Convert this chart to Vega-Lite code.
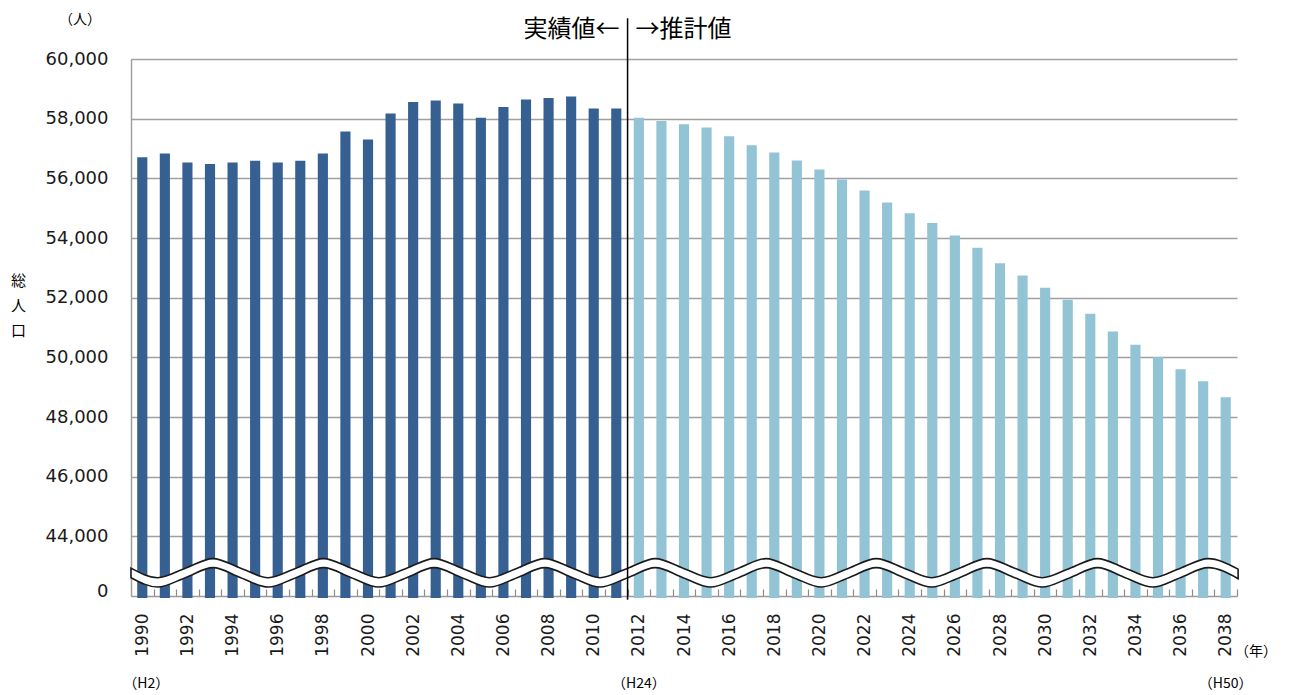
{
  "$schema": "https://vega.github.io/schema/vega-lite/v6.json",
  "autosize": {"type": "none"},
  "width": 1106,
  "height": 537,
  "padding": {"left": 131, "top": 59, "right": 56, "bottom": 99},
  "background": "white",
  "config": {"view": {"stroke": null}, "font": "DejaVu Sans"},
  "datasets": {
    "pop": [
      {"year": 1990, "value": 56710, "kind": "actual"},
      {"year": 1991, "value": 56830, "kind": "actual"},
      {"year": 1992, "value": 56530, "kind": "actual"},
      {"year": 1993, "value": 56480, "kind": "actual"},
      {"year": 1994, "value": 56530, "kind": "actual"},
      {"year": 1995, "value": 56590, "kind": "actual"},
      {"year": 1996, "value": 56530, "kind": "actual"},
      {"year": 1997, "value": 56590, "kind": "actual"},
      {"year": 1998, "value": 56830, "kind": "actual"},
      {"year": 1999, "value": 57570, "kind": "actual"},
      {"year": 2000, "value": 57300, "kind": "actual"},
      {"year": 2001, "value": 58170, "kind": "actual"},
      {"year": 2002, "value": 58560, "kind": "actual"},
      {"year": 2003, "value": 58610, "kind": "actual"},
      {"year": 2004, "value": 58510, "kind": "actual"},
      {"year": 2005, "value": 58030, "kind": "actual"},
      {"year": 2006, "value": 58390, "kind": "actual"},
      {"year": 2007, "value": 58640, "kind": "actual"},
      {"year": 2008, "value": 58690, "kind": "actual"},
      {"year": 2009, "value": 58740, "kind": "actual"},
      {"year": 2010, "value": 58340, "kind": "actual"},
      {"year": 2011, "value": 58340, "kind": "actual"},
      {"year": 2012, "value": 58030, "kind": "projection"},
      {"year": 2013, "value": 57920, "kind": "projection"},
      {"year": 2014, "value": 57810, "kind": "projection"},
      {"year": 2015, "value": 57700, "kind": "projection"},
      {"year": 2016, "value": 57410, "kind": "projection"},
      {"year": 2017, "value": 57110, "kind": "projection"},
      {"year": 2018, "value": 56870, "kind": "projection"},
      {"year": 2019, "value": 56600, "kind": "projection"},
      {"year": 2020, "value": 56300, "kind": "projection"},
      {"year": 2021, "value": 55960, "kind": "projection"},
      {"year": 2022, "value": 55590, "kind": "projection"},
      {"year": 2023, "value": 55190, "kind": "projection"},
      {"year": 2024, "value": 54830, "kind": "projection"},
      {"year": 2025, "value": 54500, "kind": "projection"},
      {"year": 2026, "value": 54080, "kind": "projection"},
      {"year": 2027, "value": 53670, "kind": "projection"},
      {"year": 2028, "value": 53150, "kind": "projection"},
      {"year": 2029, "value": 52740, "kind": "projection"},
      {"year": 2030, "value": 52330, "kind": "projection"},
      {"year": 2031, "value": 51930, "kind": "projection"},
      {"year": 2032, "value": 51460, "kind": "projection"},
      {"year": 2033, "value": 50870, "kind": "projection"},
      {"year": 2034, "value": 50420, "kind": "projection"},
      {"year": 2035, "value": 50010, "kind": "projection"},
      {"year": 2036, "value": 49600, "kind": "projection"},
      {"year": 2037, "value": 49200, "kind": "projection"},
      {"year": 2038, "value": 48660, "kind": "projection"}
    ],
    "wave": [
      {"x": 1989.5, "top": 42933, "bot": 42614},
      {"x": 1990.68, "top": 42614, "bot": 42300},
      {"x": 1991.91, "top": 42933, "bot": 42614},
      {"x": 1993.13, "top": 43252, "bot": 42950},
      {"x": 1994.36, "top": 42933, "bot": 42614},
      {"x": 1995.58, "top": 42614, "bot": 42300},
      {"x": 1996.81, "top": 42933, "bot": 42614},
      {"x": 1998.03, "top": 43252, "bot": 42950},
      {"x": 1999.26, "top": 42933, "bot": 42614},
      {"x": 2000.48, "top": 42614, "bot": 42300},
      {"x": 2001.71, "top": 42933, "bot": 42614},
      {"x": 2002.93, "top": 43252, "bot": 42950},
      {"x": 2004.16, "top": 42933, "bot": 42614},
      {"x": 2005.38, "top": 42614, "bot": 42300},
      {"x": 2006.61, "top": 42933, "bot": 42614},
      {"x": 2007.83, "top": 43252, "bot": 42950},
      {"x": 2009.06, "top": 42933, "bot": 42614},
      {"x": 2010.28, "top": 42614, "bot": 42300},
      {"x": 2011.51, "top": 42933, "bot": 42614},
      {"x": 2012.73, "top": 43252, "bot": 42950},
      {"x": 2013.96, "top": 42933, "bot": 42614},
      {"x": 2015.18, "top": 42614, "bot": 42300},
      {"x": 2016.41, "top": 42933, "bot": 42614},
      {"x": 2017.63, "top": 43252, "bot": 42950},
      {"x": 2018.85, "top": 42933, "bot": 42614},
      {"x": 2020.08, "top": 42614, "bot": 42300},
      {"x": 2021.3, "top": 42933, "bot": 42614},
      {"x": 2022.52, "top": 43252, "bot": 42950},
      {"x": 2023.75, "top": 42933, "bot": 42614},
      {"x": 2024.97, "top": 42614, "bot": 42300},
      {"x": 2026.2, "top": 42933, "bot": 42614},
      {"x": 2027.42, "top": 43252, "bot": 42950},
      {"x": 2028.65, "top": 42933, "bot": 42614},
      {"x": 2029.87, "top": 42614, "bot": 42300},
      {"x": 2031.1, "top": 42933, "bot": 42614},
      {"x": 2032.32, "top": 43252, "bot": 42950},
      {"x": 2033.55, "top": 42933, "bot": 42614},
      {"x": 2034.77, "top": 42614, "bot": 42300},
      {"x": 2035.99, "top": 42933, "bot": 42614},
      {"x": 2037.22, "top": 43252, "bot": 42950},
      {"x": 2038.55, "top": 42900, "bot": 42580}
    ],
    "notes": [
      {"x": 2011.5, "y": 60963, "label": "実績値←", "pos": "left"},
      {"x": 2011.5, "y": 60963, "label": "→推計値", "pos": "right"},
      {"x": 1987.24, "y": 61309, "label": "（人）", "pos": "small"},
      {"x": 1990.18, "y": 39057, "label": "（H2）", "pos": "small"},
      {"x": 2012, "y": 39057, "label": "（H24）", "pos": "small"},
      {"x": 2038, "y": 39057, "label": "（H50）", "pos": "small"},
      {"x": 2039.34, "y": 40131, "label": "（年）", "pos": "small"}
    ],
    "divider": [
      {"x": 2011.5, "y": 61366, "y2": 41876}
    ]
  },
  "resolve": {"scale": {"x": "independent"}},
  "layer": [
    {
      "data": {"name": "pop"},
      "mark": {"type": "bar"},
      "encoding": {
        "x": {
          "field": "year",
          "type": "ordinal",
          "scale": {"paddingInner": 0.55, "paddingOuter": 0.275},
          "axis": {
            "title": null,
            "labelAngle": 270,
            "labelExpr": "datum.value % 2 == 0 ? datum.label : ''",
            "labelOverlap": false,
            "labelFont": "DejaVu Sans",
            "labelFontSize": 17,
            "labelColor": "#1a1a1a",
            "labelPadding": 24,
            "tickOffset": 11.29,
            "labelOffset": -11.29,
            "tickSize": -7,
            "tickColor": "#8a8a8a",
            "tickWidth": 1.2,
            "domainColor": "#9a9a9a",
            "domainWidth": 1.5,
            "grid": false
          }
        },
        "y": {
          "field": "value",
          "type": "quantitative",
          "scale": {"domain": [42000, 60000], "nice": false, "zero": false},
          "axis": {
            "values": [42150, 44000, 46000, 48000, 50000, 52000, 54000, 56000, 58000, 60000],
            "labelExpr": "datum.value < 43000 ? '0' : format(datum.value, ',')",
            "labelFont": "DejaVu Sans",
            "labelFontSize": 18,
            "labelColor": "#1a1a1a",
            "labelPadding": 23,
            "ticks": false,
            "grid": true,
            "gridColor": {"condition": {"test": "datum.value < 43000", "value": "#ffffff"}, "value": "#a0a0a0"},
            "gridWidth": 1.5,
            "domainColor": "#a0a0a0",
            "domainWidth": 1.5,
            "title": ["総", "人", "口"],
            "titleAngle": 0,
            "titleX": -113,
            "titleY": 221,
            "titleAlign": "center",
            "titleBaseline": "middle",
            "titleFont": "Noto Sans CJK JP",
            "titleFontSize": 15,
            "titleFontWeight": "normal",
            "titleLineHeight": 25,
            "titleColor": "#000000"
          }
        },
        "y2": {"datum": 41930},
        "color": {
          "field": "kind",
          "type": "nominal",
          "scale": {"domain": ["actual", "projection"], "range": ["#376092", "#93c4d6"]},
          "legend": null
        }
      }
    },
    {
      "layer": [
        {
          "data": {"name": "wave"},
          "mark": {"type": "area", "interpolate": "monotone", "fill": "white", "stroke": "#1a1a1a", "strokeWidth": 1.6},
          "encoding": {
            "x": {"field": "x", "type": "quantitative", "scale": {"domain": [1989.5, 2038.5], "nice": false, "zero": false}, "axis": null},
            "y": {"field": "top", "type": "quantitative", "scale": {"domain": [42000, 60000], "nice": false, "zero": false}},
            "y2": {"field": "bot"}
          }
        },
        {
          "data": {"name": "divider"},
          "mark": {"type": "rule", "color": "#000000", "strokeWidth": 1.5},
          "encoding": {
            "x": {"field": "x", "type": "quantitative", "scale": {"domain": [1989.5, 2038.5], "nice": false, "zero": false}, "axis": null},
            "y": {"field": "y", "type": "quantitative", "scale": {"domain": [42000, 60000], "nice": false, "zero": false}},
            "y2": {"field": "y2"}
          }
        },
        {
          "data": {"name": "notes"},
          "transform": [{"filter": "datum.pos == 'left'"}],
          "mark": {"type": "text", "align": "right", "baseline": "middle", "dx": -8, "font": "Noto Sans CJK JP", "fontSize": 24, "color": "#000000"},
          "encoding": {
            "x": {"field": "x", "type": "quantitative", "scale": {"domain": [1989.5, 2038.5], "nice": false, "zero": false}, "axis": null},
            "y": {"field": "y", "type": "quantitative", "scale": {"domain": [42000, 60000], "nice": false, "zero": false}},
            "text": {"field": "label"}
          }
        },
        {
          "data": {"name": "notes"},
          "transform": [{"filter": "datum.pos == 'right'"}],
          "mark": {"type": "text", "align": "left", "baseline": "middle", "dx": 8, "font": "Noto Sans CJK JP", "fontSize": 24, "color": "#000000"},
          "encoding": {
            "x": {"field": "x", "type": "quantitative", "scale": {"domain": [1989.5, 2038.5], "nice": false, "zero": false}, "axis": null},
            "y": {"field": "y", "type": "quantitative", "scale": {"domain": [42000, 60000], "nice": false, "zero": false}},
            "text": {"field": "label"}
          }
        },
        {
          "data": {"name": "notes"},
          "transform": [{"filter": "datum.pos == 'small'"}],
          "mark": {"type": "text", "align": "center", "baseline": "middle", "font": "Noto Sans CJK JP", "fontSize": 14, "color": "#000000"},
          "encoding": {
            "x": {"field": "x", "type": "quantitative", "scale": {"domain": [1989.5, 2038.5], "nice": false, "zero": false}, "axis": null},
            "y": {"field": "y", "type": "quantitative", "scale": {"domain": [42000, 60000], "nice": false, "zero": false}},
            "text": {"field": "label"}
          }
        }
      ]
    }
  ]
}
